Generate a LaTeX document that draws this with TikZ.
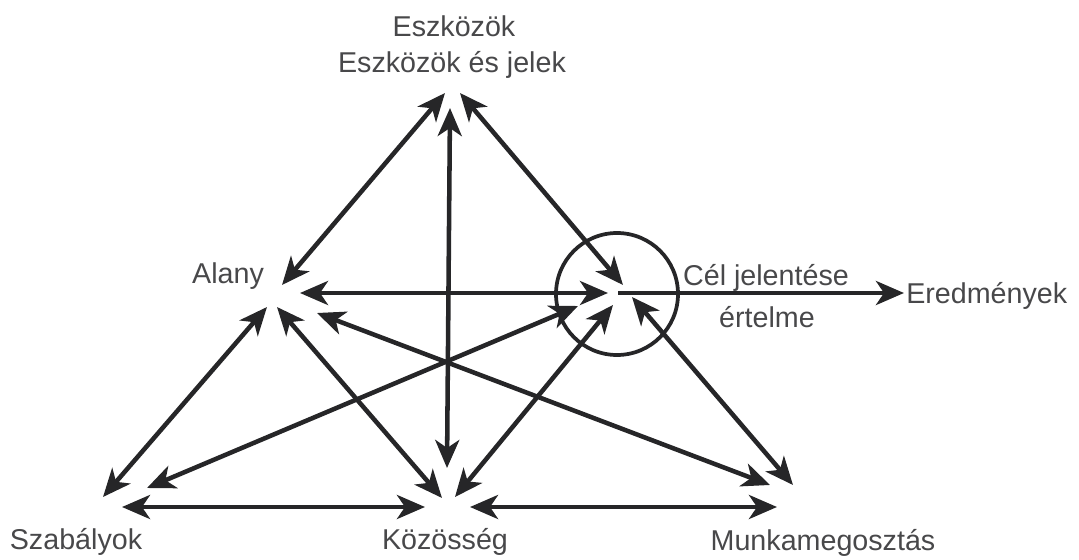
\documentclass[tikz,border=0pt]{standalone}
\usepackage{fontspec}
\setmainfont{Liberation Sans}
\usetikzlibrary{arrows.meta}
\definecolor{inkdark}{RGB}{38,38,40}
\definecolor{textgray}{RGB}{72,72,74}

\begin{document}
\begin{tikzpicture}[x=0.75pt,y=0.75pt,yscale=-1,xscale=1,
    tip/.tip={Stealth[length=21pt,width=18pt,inset=6pt]},
    dbl/.style={line width=3.4pt, color=inkdark, tip-tip},
    sgl/.style={line width=3.4pt, color=inkdark, -tip},
    lbl/.style={font=\fontsize{21.5}{24}\selectfont, text=textgray, inner sep=0pt, anchor=base}]
    \useasboundingbox (0,0) rectangle (1079,560); %set diagram to 1079 x 560

    %Arrow ends [eszközök]
    \coordinate (ea) at (445,93);
    \coordinate (ek) at (450,108);
    \coordinate (ec) at (460,93);
    %Arrow ends [alany]
    \coordinate (ae) at (282,285);
    \coordinate (ac) at (300,293);
    \coordinate (as) at (267,307);
    \coordinate (ak) at (277,307);
    \coordinate (am) at (317,313);
    %Arrow ends [cél]
    \coordinate (ce) at (623,285);
    \coordinate (ca) at (608,293);
    \coordinate (cr) at (618,293);
    \coordinate (cs) at (578,306);
    \coordinate (ck) at (613,305);
    \coordinate (cm) at (632,297);
    %Arrow ends [szabályok]
    \coordinate (sa) at (103,497);
    \coordinate (sc) at (147,488);
    \coordinate (sk) at (122,507);
    %Arrow ends [közösség]
    \coordinate (ke) at (447,468);
    \coordinate (ka) at (442,498);
    \coordinate (kc) at (455,497);
    \coordinate (ks) at (425,507);
    \coordinate (km) at (470,507);
    %Arrow ends [munkamegosztás]
    \coordinate (ma) at (770,485);
    \coordinate (mc) at (793,485);
    \coordinate (mk) at (777,507);
    %Arrow end [eredmények]
    \coordinate (re) at (904,293);

    %Shape: Circle
    \draw [line width=2.8pt, color=inkdark] (617,294) circle [radius=61];

    %Straight Lines
    \draw [dbl] (ae) -- (ea);
    \draw [dbl] (ek) -- (ke);
    \draw [dbl] (ec) -- (ce);
    \draw [dbl] (ac) -- (ca);
    \draw [sgl] (cr) -- (re);
    \draw [dbl] (as) -- (sa);
    \draw [dbl] (ak) -- (ka);
    \draw [dbl] (am) -- (ma);
    \draw [dbl] (sc) -- (cs);
    \draw [dbl] (kc) -- (ck);
    \draw [dbl] (mc) -- (cm);
    \draw [dbl] (sk) -- (ks);
    \draw [dbl] (km) -- (mk);

    %Text
    \node [lbl] (eszk) at (454,37) {Eszközök};
    \node [lbl] (jelek) at (452,73) {Eszközök és jelek};
    \node [lbl] (alany) at (228,283) {Alany};
    \node [lbl] (cel) at (766,285) {Cél jelentése};
    \node [lbl] (ertelme) at (767,327) {értelme};
    \node [lbl, anchor=base west] (ered) at (906,303) {Eredmények};
    \node [lbl] (szab) at (76,549) {Szabályok};
    \node [lbl] (koz) at (445,549) {Közösség};
    \node [lbl] (munka) at (823,550) {Munkamegosztás};
\end{tikzpicture}
\end{document}
